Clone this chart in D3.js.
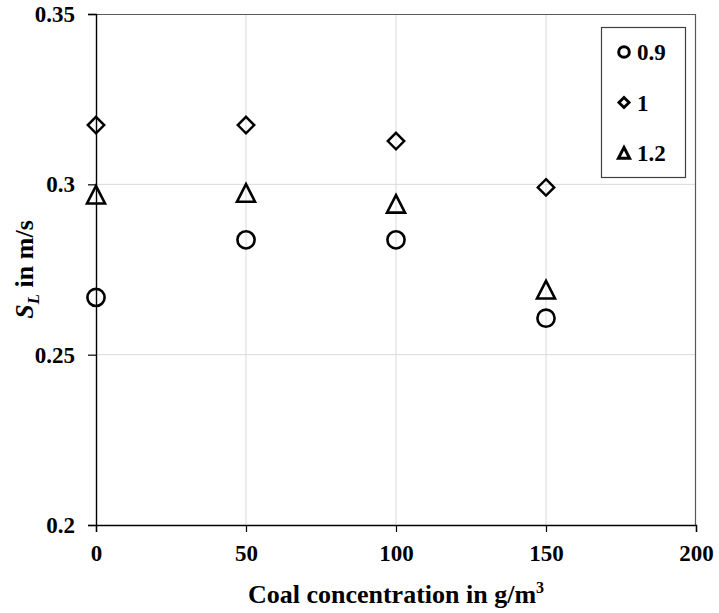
<!DOCTYPE html>
<html>
<head>
<meta charset="utf-8">
<script src="https://cdn.jsdelivr.net/npm/d3@7"></script>
<style>
  body { margin: 0; background: #fff; }
  text { font-family: "Liberation Serif", "Times New Roman", serif; font-weight: bold; }
</style>
</head>
<body>
<div id="chart"></div>
<script>
const concentrations = [0, 50, 100, 150];
const series = ['0.9', '1', '1.2'];
const values09 = [0.2668, 0.2837, 0.2837, 0.2607];
const values1 = [0.3174, 0.3174, 0.3127, 0.2991];
const values12 = [0.2969, 0.2974, 0.2942, 0.2690];
const xTicks = [0, 50, 100, 150, 200];
const yTicks = [0.2, 0.25, 0.3, 0.35];
const yTickLabels = ['0.2', '0.25', '0.3', '0.35'];

const width = 719, height = 613;
const margin = { top: 14, right: 23, bottom: 88, left: 96 };
const w = width - margin.left - margin.right;
const h = height - margin.top - margin.bottom;

const svg = d3.select('#chart').append('svg')
  .attr('width', width)
  .attr('height', height);

const g = svg.append('g')
  .attr('transform', `translate(${margin.left},${margin.top})`);

const x = d3.scaleLinear().domain([0, 200]).range([0, w]);
const y = d3.scaleLinear().domain([0.2, 0.35]).range([h, 0]);

// grid
g.append('g').selectAll('line')
  .data(xTicks.slice(1, -1))
  .enter().append('line')
  .attr('x1', d => x(d)).attr('x2', d => x(d))
  .attr('y1', 0).attr('y2', h)
  .attr('stroke', '#d9d9d9').attr('stroke-width', 1);

g.append('g').selectAll('line')
  .data(yTicks.slice(1, -1))
  .enter().append('line')
  .attr('x1', 0).attr('x2', w)
  .attr('y1', d => y(d)).attr('y2', d => y(d))
  .attr('stroke', '#d9d9d9').attr('stroke-width', 1);

// frame top/right
g.append('line').attr('x1', 0).attr('x2', w).attr('y1', 0.5).attr('y2', 0.5)
  .attr('stroke', '#595959').attr('stroke-width', 1.2);
g.append('line').attr('x1', w - 0.5).attr('x2', w - 0.5).attr('y1', 0).attr('y2', h)
  .attr('stroke', '#595959').attr('stroke-width', 1.2);

// axes
const xAxis = g.append('g')
  .attr('transform', `translate(0,${h})`)
  .call(d3.axisBottom(x).tickValues(xTicks).tickSize(7).tickFormat(d3.format('d')).tickPadding(13));
const yAxis = g.append('g')
  .call(d3.axisLeft(y).tickValues(yTicks).tickSize(8)
    .tickFormat((d, i) => yTickLabels[i]).tickPadding(13));

[xAxis, yAxis].forEach(a => {
  a.select('path.domain').attr('stroke', '#000').attr('stroke-width', 1.4);
  a.selectAll('.tick line').attr('stroke', '#000').attr('stroke-width', 1.2);
  a.selectAll('.tick text').attr('fill', '#000')
    .attr('font-size', 23).attr('font-family', '"Liberation Serif", serif').attr('font-weight', 'bold');
});
yAxis.selectAll('.tick text').attr('dy', '0.32em');

// axis titles
svg.append('text')
  .attr('x', margin.left + w / 2)
  .attr('y', 603)
  .attr('text-anchor', 'middle')
  .style('font-size', '26px')
  .text('Coal concentration in g/m')
  .append('tspan').attr('dy', -10).style('font-size', '16px').text('3');

const yl = svg.append('text')
  .attr('transform', `translate(33,${margin.top + h / 2}) rotate(-90)`)
  .attr('text-anchor', 'middle')
  .style('font-size', '26px');
yl.append('tspan').style('font-style', 'italic').text('S');
yl.append('tspan').attr('dy', 6).style('font-style', 'italic').style('font-size', '17px').text('L');
yl.append('tspan').attr('dy', -6).text(' in m/s');

// markers
function drawMarker(sel, s, k, sw) {
  if (s === '0.9') {
    sel.append('circle').attr('r', 8.6 * k)
      .attr('fill', 'none').attr('stroke', '#000').attr('stroke-width', sw);
  } else if (s === '1') {
    const r = 8.2 * k;
    sel.append('path').attr('d', `M0,${-r}L${r},0L0,${r}L${-r},0Z`)
      .attr('fill', 'none').attr('stroke', '#000').attr('stroke-width', sw * 0.95);
  } else {
    const hw = 9 * k, hh = 9 * k;
    sel.append('path').attr('d', `M0,${-hh}L${hw},${hh * 0.95}L${-hw},${hh * 0.95}Z`)
      .attr('fill', 'none').attr('stroke', '#000').attr('stroke-width', sw);
  }
}

const seriesValues = { '0.9': values09, '1': values1, '1.2': values12 };
series.forEach(s => {
  seriesValues[s].forEach((v, i) => {
    const m = g.append('g')
      .attr('transform', `translate(${x(concentrations[i])},${y(v)})`);
    drawMarker(m, s, 1, 2.6);
  });
});

// legend
const legend = svg.append('g').attr('transform', 'translate(601,27)');
legend.append('rect').attr('x', 0.5).attr('y', 0.5).attr('width', 84).attr('height', 150)
  .attr('fill', '#fff').attr('stroke', '#404040').attr('stroke-width', 1.2);
const legY = d3.scalePoint().domain(series).range([25, 126]);
series.forEach(s => {
  const item = legend.append('g').attr('transform', `translate(0,${legY(s)})`);
  const m = item.append('g').attr('transform', 'translate(23,0)');
  drawMarker(m, s, 0.62, 3);
  item.append('text').attr('x', 36).attr('y', 0).attr('dy', '0.35em')
    .style('font-size', '23px').text(s);
});
</script>
</body>
</html>
